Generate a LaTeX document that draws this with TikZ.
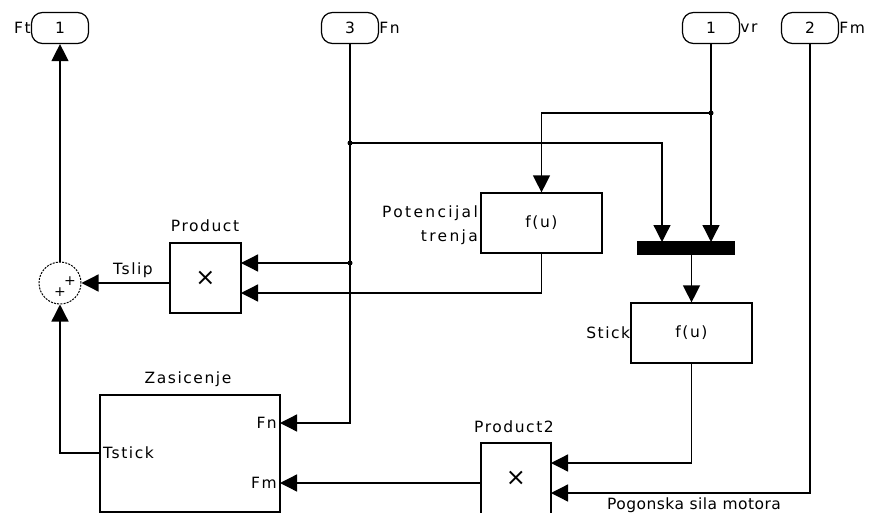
\documentclass[tikz,border=0pt]{standalone}
\usepackage{fontspec}
\setmainfont{DejaVu Sans}[LetterSpace=10]
\usetikzlibrary{shapes,shapes.misc,shapes.geometric}
\usetikzlibrary{positioning,arrows.meta}

\tikzset{
  blk/.style={draw, line width=1.2pt, inner sep=0pt},
  port/.style={draw, line width=1.2pt, rounded corners=11pt, minimum width=57pt, minimum height=31pt, inner sep=0pt},
  sig/.style={line width=1.3pt, -{Triangle[length=17pt,width=17pt]}},
  lbl/.style={inner sep=0pt},
  dot/.style={circle, fill, inner sep=0pt, minimum size=5pt},
  mult/.style={inner sep=0pt, font=\fontsize{24}{24}\selectfont}
}

\begin{document}
\begin{tikzpicture}[x=1pt,y=-1pt,font=\fontsize{15.5}{18}\selectfont]
\useasboundingbox (0,0) rectangle (877,513);

% ports
\node[port] (outFt) at (60,28) {1};
\node[port] (inFn) at (350,28) {3};
\node[port] (inVr) at (711,28) {1};
\node[port] (inFm) at (810,28) {2};
\node[lbl, anchor=east] (tFt) at (outFt.west) {Ft};
\node[lbl, anchor=west] (tFn) at (inFn.east) {Fn};
\node[lbl, anchor=west] (tVr) at (inVr.east) {vr};
\node[lbl, anchor=west] (tFm) at (inFm.east) {Fm};

% blocks
\node[blk, minimum width=71pt, minimum height=70pt] (prod) at (205.5,278) {};
\node[mult] (x1) at (205.5,278) {×};
\node[lbl] (tProd) at (205,226) {Product};
\node[blk, minimum width=121pt, minimum height=60pt] (pot) at (541.5,223) {f(u)};
\node[lbl, anchor=east, align=right, font=\fontsize{15.5}{24}\selectfont\addfontfeatures{LetterSpace=15}] (tPot) at (478,225) {Potencijal\\trenja};
\node[blk, fill=black, minimum width=96pt, minimum height=12pt] (mux) at (686,248) {};
\node[blk, minimum width=121pt, minimum height=60pt] (stick) at (691.5,333) {f(u)};
\node[lbl, anchor=east] (tStick) at (stick.west) {Stick};
\node[blk, minimum width=180pt, minimum height=117pt] (zas) at (190,453.5) {};
\node[lbl] (tZas) at (188,379) {Zasicenje};
\node[lbl, anchor=east] (zFn) at (277,423) {Fn};
\node[lbl, anchor=east] (zFm) at (277,483) {Fm};
\node[lbl, anchor=west] (zTs) at (103,453) {Tstick};
\node[blk, minimum width=70pt, minimum height=80pt] (prod2) at (516,483) {};
\node[mult] (x2) at (516,478) {×};
\node[lbl] (tProd2) at (514,427) {Product2};
\node[circle, draw, dash pattern=on 2pt off 1.2pt, line width=1pt, minimum size=42pt, inner sep=0pt] (sum) at (60,283) {};
\node[lbl, font=\fontsize{14}{14}\selectfont] (p1) at (70,281) {+};
\node[lbl, font=\fontsize{14}{14}\selectfont] (p2) at (60,292) {+};

% junctions and inputs
\coordinate (j1) at (350,143);
\coordinate (j2) at (350,263);
\coordinate (j3) at (711,113);
\coordinate (muxA) at (662,242);
\coordinate (muxB) at (711,242);
\coordinate (prodA) at (241,263);
\coordinate (prodB) at (241,293);
\coordinate (zasA) at (280,423);
\coordinate (zasB) at (280,483);
\coordinate (prod2A) at (551,463);
\coordinate (prod2B) at (551,493);
\node[dot] at (j1) {};
\node[dot] at (j2) {};
\node[dot] at (j3) {};

% signals
\draw[sig] (sum.north) -- (outFt.south);
\draw[sig] (inFn.south) |- (zasA);
\draw[sig] (j1) -| (muxA);
\draw[sig] (j2) -- (prodA);
\draw[sig] (inVr.south) -- (muxB);
\draw[sig] (j3) -| (pot.north);
\draw[sig] (stick.north |- mux.south) -- (stick.north);
\draw[sig] (pot.south) |- (prodB);
\draw[sig] (prod.west |- sum.east) -- (sum.east);
\node[lbl] (tSlip) at (133,270) {Tslip};
\draw[sig] (zas.west |- zTs.west) -| (sum.south);
\draw[sig] (stick.south) |- (prod2A);
\draw[sig] (inFm.south) |- (prod2B);
\node[lbl, font=\fontsize{15.5}{18}\selectfont\addfontfeatures{LetterSpace=3}] (tPog) at (694,505) {Pogonska sila motora};
\draw[sig] (prod2.west |- zasB) -- (zasB);
\end{tikzpicture}
\end{document}
